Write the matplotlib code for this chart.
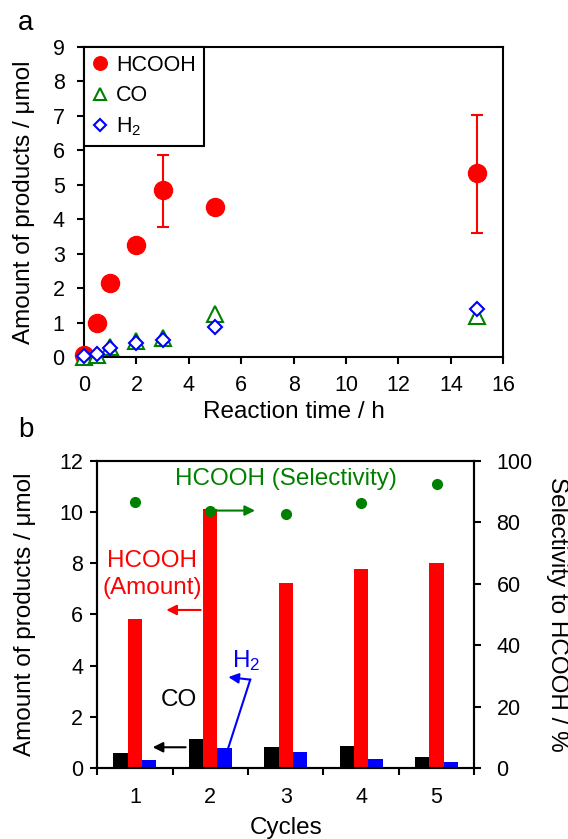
import numpy as np
import matplotlib.pyplot as plt

plt.rcParams['font.family'] = ['Liberation Sans', 'DejaVu Sans']
plt.rcParams['font.size'] = 15.5
plt.rcParams['axes.linewidth'] = 1.5
plt.rcParams['mathtext.default'] = 'regular'

# panel a: time course
tiempo = [0, 0.5, 1, 2, 3, 5, 15]
hcooh = [0.05, 0.98, 2.15, 3.25, 4.85, 4.35, 5.33]
hcooh_err_lo = [0, 0, 0, 0, 1.07, 0, 1.73]
hcooh_err_hi = [0, 0, 0, 0, 1.0, 0, 1.70]
co = [0.0, 0.05, 0.3, 0.45, 0.55, 1.25, 1.18]
h2 = [0.02, 0.1, 0.25, 0.4, 0.48, 0.87, 1.39]

# panel b: cycles
ciclos = [1, 2, 3, 4, 5]
co_ciclo = [0.57, 1.13, 0.84, 0.86, 0.42]
hcooh_ciclo = [5.82, 10.1, 7.24, 7.76, 8.0]
h2_ciclo = [0.32, 0.80, 0.61, 0.34, 0.23]
selectividad = [86.5, 83.7, 82.6, 86.3, 92.3]

fig = plt.figure(figsize=(5.68, 8.39), dpi=100)
LAB = 17.5
TCK = 15.5

# ---- a ----
ax = fig.add_axes([0.148, 0.5745, 0.738, 0.3695])
ax.errorbar(tiempo, hcooh, yerr=[hcooh_err_lo, hcooh_err_hi], fmt='none',
            ecolor='red', elinewidth=1.5, capsize=4, capthick=1.5, zorder=2)
ax.plot(tiempo, hcooh, 'o', color='red', ms=13, label='HCOOH', clip_on=False, zorder=3)
ax.plot(tiempo, co, '^', ms=11, mfc='white', mec='green', mew=1.5, color='green',
        label='CO', clip_on=False, zorder=4)
ax.plot(tiempo, h2, 'D', ms=7.5, mfc='white', mec='blue', mew=1.5, color='blue',
        label='H$_2$', clip_on=False, zorder=5)
ax.set_xlim(0, 16)
ax.set_ylim(0, 9)
ax.set_xticks(range(0, 17, 2))
ax.set_yticks(range(0, 10))
ax.tick_params(direction='out', length=5, width=1.5, labelsize=TCK)
ax.tick_params(axis='y', pad=9)
ax.tick_params(axis='x', pad=8)
ax.set_xlabel('Reaction time / h', fontsize=LAB)
ax.set_ylabel('Amount of products / μmol', fontsize=LAB)
ax.xaxis.set_label_coords(0.5, -0.177)
ax.xaxis.label.set_va('center')
ax.yaxis.set_label_coords(-0.143, 0.5)
ax.yaxis.label.set_va('center')
leg = ax.legend(loc='upper left', borderaxespad=0, fancybox=False,
                edgecolor='black', fontsize=TCK, markerscale=0.75, handletextpad=0.35,
                handlelength=0.8, borderpad=0.35, labelspacing=0.45)
leg.get_frame().set_linewidth(1.5)
leg.get_frame().set_alpha(1)
fig.text(0.045, 0.972, 'a', fontsize=20, ha='center', va='center')

# ---- b ----
bx = fig.add_axes([0.171, 0.0846, 0.664, 0.3664])
x = np.array(ciclos)
w = 0.19
bx.bar(x - w, co_ciclo, w, color='black')
bx.bar(x, hcooh_ciclo, w, color='red')
bx.bar(x + w, h2_ciclo, w, color='blue')
bx.set_xlim(0.5, 5.5)
bx.set_ylim(0, 12)
bx.set_yticks(range(0, 13, 2))
bx.set_xticks(np.arange(0.5, 6, 1))
bx.set_xticklabels([])
bx.tick_params(axis='x', direction='out', length=5, width=1.5)
bx.tick_params(axis='y', direction='out', length=5, width=1.5, labelsize=TCK, pad=5)
# cycle numbers centred between the tick marks
for c in ciclos:
    bx.text(c, -0.095, str(c), transform=bx.get_xaxis_transform(),
            ha='center', va='center', fontsize=TCK)
bx.set_xlabel('Cycles', fontsize=LAB)
bx.set_ylabel('Amount of products / μmol', fontsize=LAB)
bx.xaxis.set_label_coords(0.5, -0.195)
bx.xaxis.label.set_va('center')
bx.yaxis.set_label_coords(-0.19, 0.5)
bx.yaxis.label.set_va('center')

bx2 = bx.twinx()
bx2.plot(ciclos, selectividad, 'o', color='green', ms=7)
bx2.set_ylim(0, 100)
bx2.set_yticks(range(0, 101, 20))
bx2.tick_params(direction='out', length=5, width=1.5, labelsize=TCK, pad=11)
bx2.set_ylabel('Selectivity to HCOOH / %', fontsize=LAB, rotation=270)
bx2.yaxis.set_label_coords(1.22, 0.5)
bx2.yaxis.label.set_va('center')

# annotations
ANN = 17.5
MS = 15
bx.text(3.0, 11.3, 'HCOOH (Selectivity)', color='green', fontsize=ANN, ha='center', va='center')
bx.annotate('', xy=(2.63, 10.05), xytext=(2.0, 10.05),
            arrowprops=dict(arrowstyle='-|>', color='green', lw=1.5, mutation_scale=MS))
bx.text(1.23, 7.54, 'HCOOH\n(Amount)', color='red', fontsize=ANN, ha='center', va='center',
        linespacing=1.3)
bx.annotate('', xy=(1.38, 6.17), xytext=(1.91, 6.17),
            arrowprops=dict(arrowstyle='-|>', color='red', lw=1.5, mutation_scale=MS))
bx.text(1.58, 2.65, 'CO', color='black', fontsize=ANN, ha='center', va='center')
bx.annotate('', xy=(1.2, 0.81), xytext=(1.71, 0.81),
            arrowprops=dict(arrowstyle='-|>', color='black', lw=1.5, mutation_scale=MS))
bx.text(2.48, 4.2, 'H$_2$', color='blue', fontsize=ANN, ha='center', va='center')
bx.plot([2.24, 2.53], [0.8, 3.45], color='blue', lw=1.5)
bx.annotate('', xy=(2.24, 3.55), xytext=(2.53, 3.45),
            arrowprops=dict(arrowstyle='-|>', color='blue', lw=1.5, mutation_scale=MS,
                            shrinkA=0, shrinkB=0))
fig.text(0.045, 0.488, 'b', fontsize=20, ha='center', va='center')

fig.savefig('out.png', dpi=100)
